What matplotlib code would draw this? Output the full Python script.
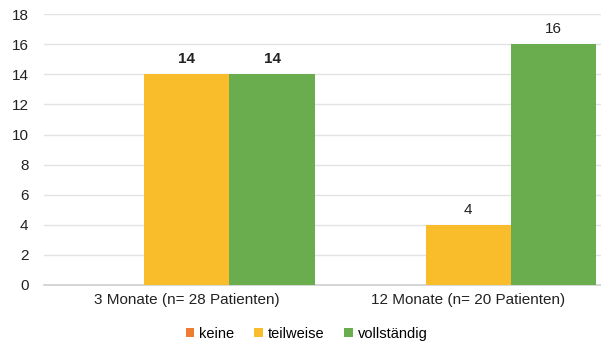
import numpy as np
import matplotlib.pyplot as plt

plt.rcParams['font.family'] = ['Liberation Sans', 'DejaVu Sans']

categories = ['3 Monate (n= 28 Patienten)', '12 Monate (n= 20 Patienten)']
series = ['keine', 'teilweise', 'vollständig']
keine = [0, 0]
teilweise = [14, 4]
vollstaendig = [14, 16]
colors = ['#ED7D31', '#F9BC2B', '#6AAD4F']

fig = plt.figure(figsize=(6.01, 3.45), dpi=100)
ax = fig.add_axes([0.073, 0.174, 0.927, 0.785])

x = np.arange(len(categories))
w = 0.303
values = [keine, teilweise, vollstaendig]
for i, (name, vals, c) in enumerate(zip(series, values, colors)):
    ax.bar(x + (i - 1) * w, vals, w, color=c, label=name, zorder=3)

# value labels above the non-empty bars
for i, vals in enumerate(values[1:], start=1):
    for j, v in enumerate(vals):
        if v == 0:
            continue
        ax.text(x[j] + (i - 1) * w, v + 0.55, str(v), ha='center', va='bottom',
                fontsize=11, color='#222222',
                fontweight='bold' if j == 0 else 'normal')

ax.set_xlim(-0.507, 1.471)
ax.set_ylim(0, 18)
ax.set_yticks(range(0, 19, 2))
ax.set_xticks(x)
ax.set_xticklabels(categories)
ax.yaxis.grid(True, color='#E3E3E3', linewidth=1, zorder=0)
for s in ['top', 'right', 'left']:
    ax.spines[s].set_visible(False)
ax.spines['bottom'].set_color('#D0D0D0')
ax.spines['bottom'].set_linewidth(1.2)
ax.tick_params(axis='both', length=0, labelsize=11, colors='#222222')
ax.tick_params(axis='y', pad=11)
ax.tick_params(axis='x', pad=6)

fig.legend(loc='center', bbox_to_anchor=(0.51, 0.032), ncol=3, frameon=False,
           fontsize=10.5, handlelength=0.6, handleheight=0.6, handletextpad=0.3,
           columnspacing=1.4)

fig.savefig('out.png', dpi=100)
